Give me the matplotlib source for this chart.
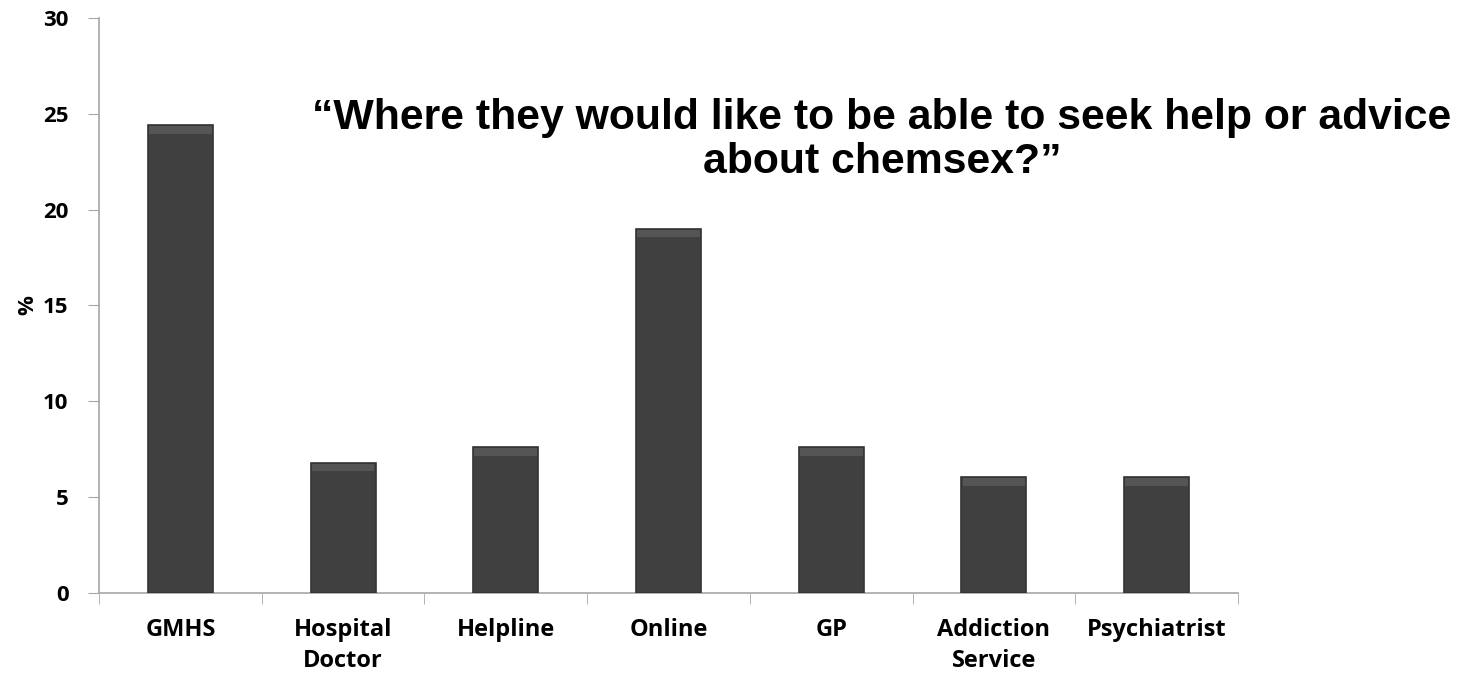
import matplotlib.pyplot as plt
import numpy as np

categories = ['GMHS', 'Hospital\nDoctor', 'Helpline', 'Online', 'GP', 'Addiction\nService', 'Psychiatrist']
values = [24.4, 6.8, 7.6, 19.0, 7.6, 6.05, 6.05]

fig = plt.figure(figsize=(14.62, 6.73), dpi=100)
ax = fig.add_axes([0.0677, 0.1189, 0.7791, 0.8544])

x = np.arange(len(categories))
vals = np.array(values)
ax.bar(x, vals, width=0.4, color='#404040', edgecolor='#333333', linewidth=1.2, zorder=3)
# soft bevel along the top of each bar
ax.bar(x, np.full_like(vals, 0.4), bottom=vals - 0.45, width=0.385, color='#555555', linewidth=0, zorder=4)

ax.set_xlim(-0.5, len(categories) - 0.5)
ax.set_ylim(0, 30)
ax.set_yticks(range(0, 31, 5))
ax.set_xticks(x)
ax.set_xticklabels(categories, fontfamily='Open Sans', fontweight='bold', fontsize=17, linespacing=1.4)
ax.set_xticks(np.arange(-0.5, len(categories)), minor=True)
ax.tick_params(axis='x', which='major', length=0, pad=18)
ax.tick_params(axis='x', which='minor', length=8, color='#a6a6a6', direction='out')
ax.tick_params(axis='y', length=8, color='#a6a6a6', pad=14)
for lab in ax.get_yticklabels():
    lab.set_fontfamily('Open Sans')
    lab.set_fontweight('bold')
    lab.set_fontsize(16)

for s in ['top', 'right']:
    ax.spines[s].set_visible(False)
for s in ['left', 'bottom']:
    ax.spines[s].set_color('#a6a6a6')
    ax.spines[s].set_linewidth(1.2)

ax.set_ylabel('%', fontfamily='Open Sans', fontweight='bold', fontsize=16, labelpad=3)

fig.text(882 / 1462, 1 - 140 / 673, '\u201cWhere they would like to be able to seek help or advice\nabout chemsex?\u201d',
         ha='center', va='center', fontsize=30.8,
         fontfamily='Liberation Sans', fontweight='bold', linespacing=1.12)

fig.savefig('out.png', dpi=100)
